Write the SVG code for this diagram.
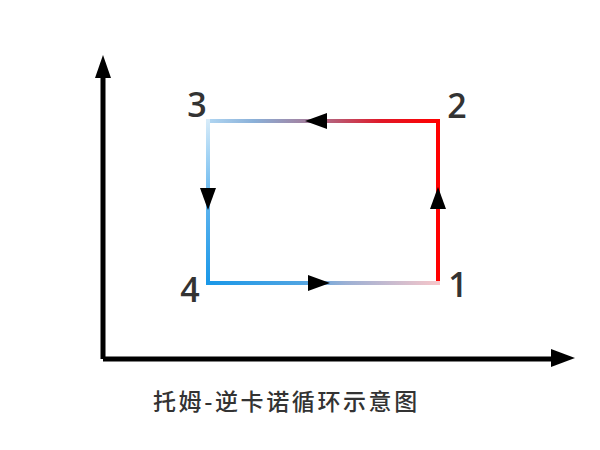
<svg xmlns="http://www.w3.org/2000/svg" width="600" height="450" viewBox="0 0 600 450">
<style>
.axis{stroke:#000;stroke-width:5;fill:none}
.edge{stroke-width:4;fill:none;stroke-linecap:square}
.lbl{font-family:"Open Sans","Noto Sans",sans-serif;font-weight:600;font-size:34px;fill:#333;text-anchor:middle}
.title{font-family:"Noto Sans CJK SC","Noto Sans",sans-serif;font-weight:500;font-size:23px;fill:#333;letter-spacing:2.6px}
</style>
<defs>
<linearGradient id="gTop" gradientUnits="userSpaceOnUse" x1="208" y1="0" x2="438" y2="0">
<stop offset="0" stop-color="#b0d6f2"/>
<stop offset="0.2" stop-color="#8ab0d8"/>
<stop offset="0.45" stop-color="#a67c9a"/>
<stop offset="0.75" stop-color="#e01828"/>
<stop offset="1" stop-color="#ff0000"/>
</linearGradient>
<linearGradient id="gLeft" gradientUnits="userSpaceOnUse" x1="0" y1="121" x2="0" y2="283">
<stop offset="0" stop-color="#d6ebf9"/>
<stop offset="0.5" stop-color="#5fb4ee"/>
<stop offset="1" stop-color="#1a98e8"/>
</linearGradient>
<linearGradient id="gBot" gradientUnits="userSpaceOnUse" x1="208" y1="0" x2="438" y2="0">
<stop offset="0" stop-color="#1a98e8"/>
<stop offset="0.4" stop-color="#4fa4e2"/>
<stop offset="0.6" stop-color="#9cb0d4"/>
<stop offset="1" stop-color="#f6c6ca"/>
</linearGradient>
<path id="arr" d="M0,0 L-22,-8 L-22,8 Z" fill="#000"/>
</defs>
<g id="axes">
<path class="axis" d="M103,359 V76 M103,359 H552"/>
<path d="M103,55 L95,78 L111,78 Z" fill="#000"/>
<path d="M575,358 L551,349 L551,367 Z" fill="#000"/>
</g>
<g id="connectors">
<line class="edge" x1="438" y1="283" x2="438" y2="121" stroke="#ff0000"/>
<line class="edge" x1="438" y1="121" x2="208" y2="121" stroke="url(#gTop)"/>
<line class="edge" x1="208" y1="121" x2="208" y2="283" stroke="url(#gLeft)"/>
<line class="edge" x1="208" y1="283" x2="438" y2="283" stroke="url(#gBot)"/>
<use href="#arr" transform="translate(438,187) rotate(-90)"/>
<use href="#arr" transform="translate(305,121) rotate(180)"/>
<use href="#arr" transform="translate(208,210) rotate(90)"/>
<use href="#arr" transform="translate(330,283)"/>
</g>
<g id="node1"><text class="lbl" x="458" y="297">1</text></g>
<g id="node2"><text class="lbl" x="457" y="118">2</text></g>
<g id="node3"><text class="lbl" x="197" y="117">3</text></g>
<g id="node4"><text class="lbl" x="190" y="302">4</text></g>
<text id="title" class="title" x="153" y="410">托姆-逆卡诺循环示意图</text>
</svg>
